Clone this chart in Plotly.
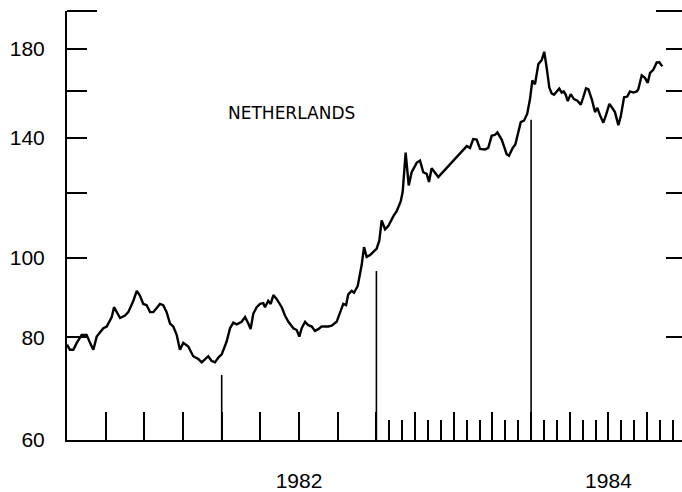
import plotly.graph_objects as go

# Netherlands share index, 1981-1984 (time in decimal years, index level)
t_years = [
    1981.000, 1981.019, 1981.041, 1981.063, 1981.095, 1981.127, 1981.149, 1981.170,
    1981.192, 1981.235, 1981.257, 1981.289, 1981.304, 1981.321, 1981.343, 1981.375,
    1981.396, 1981.429, 1981.451, 1981.472, 1981.493, 1981.515, 1981.537, 1981.558,
    1981.584, 1981.601, 1981.622, 1981.644, 1981.666, 1981.687, 1981.709, 1981.730,
    1981.752, 1981.784, 1981.816, 1981.838, 1981.849, 1981.871, 1981.892, 1981.913,
    1981.935, 1981.957, 1981.978, 1982.000, 1982.032, 1982.054, 1982.075, 1982.097,
    1982.129, 1982.151, 1982.172, 1982.187, 1982.204, 1982.226, 1982.248, 1982.269,
    1982.280, 1982.301, 1982.317, 1982.334, 1982.356, 1982.388, 1982.409, 1982.431,
    1982.463, 1982.485, 1982.502, 1982.517, 1982.539, 1982.560, 1982.582, 1982.603,
    1982.624, 1982.646, 1982.689, 1982.711, 1982.743, 1982.765, 1982.786, 1982.804,
    1982.818, 1982.840, 1982.855, 1982.879, 1982.894, 1982.905, 1982.920, 1982.937,
    1982.959, 1982.980, 1983.002, 1983.019, 1983.034, 1983.056, 1983.077, 1983.109,
    1983.131, 1983.157, 1983.170, 1983.189, 1983.209, 1983.228, 1983.261, 1983.282,
    1983.303, 1983.325, 1983.340, 1983.357, 1983.390, 1983.400, 1983.584, 1983.605,
    1983.626, 1983.648, 1983.670, 1983.702, 1983.723, 1983.745, 1983.767, 1983.782,
    1983.810, 1983.831, 1983.842, 1983.857, 1983.881, 1983.898, 1983.917, 1983.933,
    1983.954, 1983.975, 1983.993, 1984.008, 1984.025, 1984.047, 1984.069, 1984.085,
    1984.101, 1984.118, 1984.133, 1984.148, 1984.166, 1984.182, 1984.198, 1984.211,
    1984.224, 1984.237, 1984.256, 1984.277, 1984.299, 1984.321, 1984.337, 1984.355,
    1984.370, 1984.392, 1984.413, 1984.428, 1984.445, 1984.467, 1984.484, 1984.506,
    1984.528, 1984.542, 1984.564, 1984.579, 1984.601, 1984.622, 1984.639, 1984.661,
    1984.683, 1984.693, 1984.715, 1984.736, 1984.754, 1984.769, 1984.790, 1984.812,
    1984.829, 1984.848,
]
index_level = [
    78.4, 77.3, 77.3, 78.8, 80.6, 80.6, 78.8, 77.3,
    80.2, 82.1, 82.5, 84.7, 87.1, 85.9, 84.5, 85.1,
    85.9, 88.7, 91.2, 89.9, 87.9, 87.6, 85.9, 85.9,
    87.1, 87.9, 87.6, 85.9, 83.2, 82.5, 80.6, 77.3,
    78.8, 78.0, 75.9, 75.6, 75.3, 74.6, 75.3, 75.9,
    74.9, 74.6, 75.6, 76.3, 79.1, 82.1, 83.4, 83.0,
    83.6, 84.7, 83.2, 81.9, 85.5, 87.1, 87.9, 88.1,
    87.1, 88.7, 87.9, 90.1, 89.1, 87.1, 85.1, 83.6,
    82.1, 81.7, 80.2, 82.1, 83.6, 82.8, 82.5, 81.5,
    81.9, 82.5, 82.5, 82.7, 83.6, 85.9, 87.9, 87.6,
    90.3, 91.2, 90.7, 92.4, 95.9, 98.1, 103.1, 100.3,
    100.8, 101.7, 102.7, 105.0, 111.1, 108.4, 109.4, 112.4,
    114.0, 117.2, 120.4, 134.4, 122.6, 127.2, 130.7, 131.4,
    127.2, 126.6, 123.8, 128.6, 126.1, 125.5, 136.9, 136.2,
    139.6, 139.4, 135.8, 135.6, 136.2, 140.9, 141.3, 142.2,
    139.4, 136.2, 133.8, 133.2, 136.2, 137.5, 141.9, 146.4,
    147.0, 149.9, 156.2, 164.6, 162.8, 172.3, 174.3, 178.4,
    170.4, 161.3, 158.7, 158.1, 159.6, 160.9, 159.1, 159.6,
    158.1, 155.3, 158.4, 156.2, 155.5, 153.8, 157.0, 161.0,
    160.6, 156.2, 150.6, 152.4, 149.3, 146.2, 149.3, 154.1,
    152.0, 150.6, 145.2, 148.6, 157.0, 157.3, 159.6, 159.1,
    159.6, 160.6, 167.0, 165.8, 163.5, 168.1, 169.6, 173.1,
    173.2, 171.2,
]

# Year-boundary marker lines: year and the level each line reaches
marker_years = [1982.0, 1983.0, 1984.0]
marker_tops = [72.0, 96.4, 147.4]

# Axis ticks
y_tickvals = [60, 80, 100, 120, 140, 160, 180]
y_ticktext = ["60", "80", "100", "", "140", "", "180"]
x_year_start, x_year_end = 1981, 1985
quarter_ticks = [y + q / 4 for y in range(x_year_start, x_year_end) for q in range(4)][1:]
# monthly ticks for 1983-84 (months that do not fall on a quarter)
month_ticks = [y + m / 12 for y in (1983, 1984) for m in range(12) if m % 3 != 0]
year_labels = {1982.5: "1982", 1984.5: "1984"}
x_ticktext = [year_labels.get(round(v, 2), "") for v in quarter_ticks]

FONT = "Liberation Sans, Arial, sans-serif"

fig = go.Figure()

fig.add_trace(go.Scatter(
    x=t_years, y=index_level, mode="lines",
    line=dict(color="black", width=2.4),
    showlegend=False, hoverinfo="skip",
))

mx, my = [], []
for yr, top in zip(marker_years, marker_tops):
    mx += [yr, yr, None]
    my += [60, top, None]
fig.add_trace(go.Scatter(
    x=mx, y=my, mode="lines", yaxis="y2",
    line=dict(color="black", width=1.6),
    showlegend=False, hoverinfo="skip",
))

x_end = 1981 + (682 - 67) / 154.7
y_range = [1.7781513, 2.3010300]

fig.update_layout(
    width=682, height=492,
    margin=dict(l=67, r=0, t=11, b=41),
    paper_bgcolor="white", plot_bgcolor="white",
    font=dict(family=FONT, color="black", size=21),
    xaxis=dict(
        range=[1981.0, x_end], showgrid=False, zeroline=False,
        showline=True, linecolor="black", linewidth=2,
        tickmode="array", tickvals=quarter_ticks, ticktext=x_ticktext,
        ticks="inside", ticklen=28, tickwidth=1.6, tickcolor="black",
        ticklabelstandoff=21,
        minor=dict(tickmode="array", tickvals=month_ticks, ticks="inside",
                   ticklen=20, tickwidth=1.6, tickcolor="black"),
        tickfont=dict(size=21),
    ),
    yaxis=dict(
        type="log", range=y_range, showgrid=False, zeroline=False,
        showline=True, linecolor="black", linewidth=2,
        tickmode="array", tickvals=y_tickvals, ticktext=y_ticktext,
        ticks="inside", ticklen=20, tickwidth=1.6, tickcolor="black",
        ticklabelstandoff=16, tickfont=dict(size=21),
    ),
    yaxis2=dict(
        type="log", range=y_range, overlaying="y", side="right",
        showgrid=False, zeroline=False, showline=False,
        tickmode="array", tickvals=y_tickvals[1:], showticklabels=False,
        ticks="inside", ticklen=16, tickwidth=1.6, tickcolor="black",
    ),
    shapes=[
        dict(type="line", xref="x domain", yref="y domain",
             x0=0, x1=30 / 615, y0=1, y1=1, line=dict(color="black", width=2)),
        dict(type="line", xref="x domain", yref="y domain",
             x0=1 - 26 / 615, x1=1, y0=1, y1=1, line=dict(color="black", width=2)),
    ],
    annotations=[
        dict(text="NETHERLANDS", xref="paper", yref="paper",
             x=(291 - 67) / 615, y=(451 - 103) / 440,
             showarrow=False,
             font=dict(family="DejaVu Sans, sans-serif", size=17)),
    ],
)

fig.write_html("out.html")
